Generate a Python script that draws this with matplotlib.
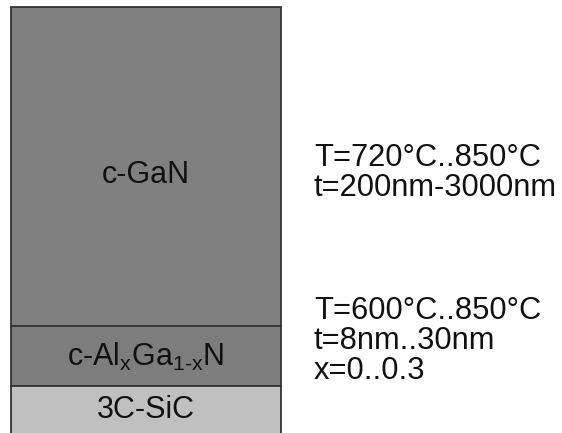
import matplotlib
matplotlib.use("Agg")
import matplotlib.pyplot as plt
from matplotlib.patches import Rectangle

plt.rcParams['font.family'] = ['Liberation Sans', 'DejaVu Sans']
plt.rcParams['mathtext.fontset'] = 'custom'
plt.rcParams['mathtext.rm'] = 'Liberation Sans'
plt.rcParams['mathtext.it'] = 'Liberation Sans'

# Layer stack (top to bottom), pixel-like schematic units
layer_names = ["c-GaN", r"c-Al$_{\mathregular{x}}$Ga$_{\mathregular{1‐x}}$N", "3C-SiC"]
layer_tops = [7, 326, 386]
layer_bottoms = [326, 386, 440]
layer_colors = ["#808080", "#7d7d7d", "#c0c0c0"]
label_y = [175, 357, 410]

notes_gan = ["T=720°C..850°C", "t=200nm-3000nm"]
notes_algan = ["T=600°C..850°C", "t=8nm..30nm", "x=0..0.3"]

fig = plt.figure(figsize=(5.62, 4.33), dpi=100)
ax = fig.add_axes([0, 0, 1, 1])
ax.set_xlim(0, 562)
ax.set_ylim(433, 0)
ax.axis('off')

x0, x1 = 11, 281
for name, top, bot, col, ly in zip(layer_names, layer_tops, layer_bottoms, layer_colors, label_y):
    ax.add_patch(Rectangle((x0, top), x1 - x0, bot - top, facecolor=col,
                           edgecolor="#333333", linewidth=1.3))
    ax.text((x0 + x1) / 2, ly, name, ha='center', va='center', fontsize=22, color='#111111')

for i, s in enumerate(notes_gan):
    ax.text(314, 158 + 30 * i, s, ha='left', va='center', fontsize=22.2, color='#111111')
for i, s in enumerate(notes_algan):
    ax.text(314, 311 + 30 * i, s, ha='left', va='center', fontsize=22.2, color='#111111')

fig.savefig("out.png", dpi=100, facecolor='white')
